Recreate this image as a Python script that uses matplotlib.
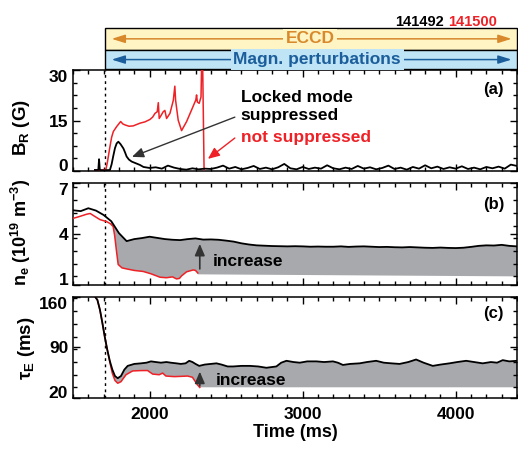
import numpy as np
import matplotlib
matplotlib.use('Agg')
import matplotlib.pyplot as plt
from matplotlib.patches import Rectangle
from matplotlib.ticker import MultipleLocator
from matplotlib.transforms import blended_transform_factory

plt.rcParams['font.family'] = ['Liberation Sans', 'DejaVu Sans']
plt.rcParams['font.weight'] = 'bold'
plt.rcParams['axes.labelweight'] = 'bold'
plt.rcParams['mathtext.fontset'] = 'custom'
plt.rcParams['mathtext.rm'] = 'Liberation Sans:bold'
plt.rcParams['mathtext.it'] = 'Liberation Sans:bold'
plt.rcParams['mathtext.bf'] = 'Liberation Sans:bold'
plt.rcParams['mathtext.default'] = 'rm'

RED = '#ee2126'
FILL = '#a7a9ac'

# --- (a) B_R, shot 141492 (black) ---
t_br_k_early = [1643, 1665, 1670, 1675, 1700, 1741, 1752, 1763, 1774, 1785,
                1796, 1810, 1829, 1840, 1850, 1865, 1883, 1910, 1937]
br_k_early = [0.3, 0.3, 3.5, 0.3, 0.2, 0.3, 2.0, 4.5, 6.8, 8.2,
              8.7, 8.0, 6.7, 5.5, 4.3, 3.4, 2.8, 2.3, 1.8]
t_br_k_tail = np.arange(1960, 4401, 40)
br_k_tail = [1.2, 0.9, 1.1, 0.7, 1.6, 1.0, 0.6, 0.4, 0.8, 0.5,
             0.7, 0.6, 1.0, 1.6, 0.7, 1.2, 0.5, 0.9, 1.5, 0.6,
             1.0, 0.5, 1.1, 2.1, 0.8, 0.5, 1.2, 0.6, 1.0, 0.7,
             1.7, 0.8, 0.5, 1.0, 0.6, 1.5, 0.7, 1.1, 0.5, 0.9,
             1.6, 0.6, 1.0, 0.4, 1.2, 0.7, 1.7, 0.8, 1.3, 0.6,
             1.1, 0.7, 1.4, 0.6, 1.0, 0.5, 1.2, 0.8, 1.3, 0.7,
             1.9, 1.5]

# --- (a) B_R, shot 141500 (red) ---
t_br_r = [1643, 1680, 1715, 1724, 1741, 1752, 1763, 1785, 1811, 1825,
          1839, 1866, 1893, 1937, 1970, 2002, 2020, 2035, 2050, 2057,
          2063, 2075, 2089, 2100, 2111, 2133, 2155, 2165, 2170, 2187,
          2209, 2242, 2274, 2302, 2307, 2312, 2324, 2336, 2341, 2346,
          2356]
br_r = [0.3, 0.2, 0.5, 2.5, 7.2, 10.0, 11.7, 13.2, 14.7, 14.0,
        13.7, 13.3, 13.4, 14.2, 14.6, 15.3, 16.0, 17.1, 17.6, 20.3,
        15.6, 16.5, 17.6, 18.0, 15.6, 17.1, 21.0, 25.2, 21.0, 15.1,
        12.0, 14.7, 18.1, 21.1, 22.6, 20.5, 20.1, 22.0, 34.0, 34.0,
        0.4]

# --- (b) density ---
t_ne_k = np.arange(1500, 4401, 50)
ne_k = [5.40, 5.35, 5.52, 5.38, 5.12, 4.75, 4.05, 3.58, 3.70, 3.76,
        3.84, 3.77, 3.70, 3.66, 3.64, 3.70, 3.74, 3.67, 3.68, 3.66,
        3.61, 3.55, 3.45, 3.38, 3.33, 3.31, 3.29, 3.28, 3.27, 3.28,
        3.27, 3.25, 3.26, 3.25, 3.25, 3.27, 3.24, 3.26, 3.27, 3.25,
        3.23, 3.24, 3.22, 3.21, 3.23, 3.21, 3.19, 3.18, 3.20, 3.18,
        3.17, 3.19, 3.24, 3.30, 3.33, 3.32, 3.36, 3.30, 3.27]
t_ne_r = [1500, 1545, 1590, 1612, 1640, 1676, 1720, 1745, 1762, 1772,
          1785, 1795, 1820, 1850, 1900, 1958, 2010, 2068, 2110, 2150,
          2176, 2195, 2209, 2242, 2285, 2300, 2315]
ne_r = [4.92, 5.04, 5.17, 5.21, 5.05, 4.85, 4.73, 4.60, 4.44, 3.90,
        2.90, 2.20, 2.00, 1.94, 1.85, 1.79, 1.65, 1.45, 1.42, 1.47,
        1.35, 1.38, 1.53, 1.77, 1.88, 1.85, 1.70]
t_ne_base = [4400, 2315]
ne_base = [1.50, 1.62]

# --- (c) confinement time ---
t_tau_k = [1600, 1643, 1659, 1676, 1692, 1707, 1724, 1741, 1757, 1774,
           1792, 1813, 1835, 1857, 1900, 1944, 1980, 2009, 2040, 2074,
           2110, 2139, 2175, 2204, 2235, 2259, 2280, 2300, 2324, 2360,
           2400, 2437, 2470, 2510, 2546, 2600, 2655, 2710, 2763, 2828,
           2860, 2894, 2940, 2981, 3030, 3090, 3140, 3198, 3230, 3263,
           3310, 3372, 3420, 3480, 3530, 3580, 3633, 3690, 3741, 3790,
           3850, 3900, 3959, 4010, 4068, 4120, 4176, 4230, 4270, 4307,
           4350, 4400]
tau_k = [177.5, 160.0, 155.6, 141.6, 123.3, 104.9, 86.5, 70.8, 59.4, 50.6,
         47.6, 50.6, 59.4, 64.6, 67.3, 68.1, 69.0, 70.8, 69.9, 69.0,
         69.9, 69.0, 68.1, 67.3, 68.1, 71.6, 69.9, 67.3, 64.6, 66.4,
         67.3, 68.1, 66.4, 63.8, 63.8, 64.6, 64.6, 63.8, 62.0, 63.8,
         69.0, 71.6, 69.9, 69.0, 70.8, 70.8, 69.9, 70.8, 69.0, 65.9,
         67.3, 68.1, 69.9, 71.6, 69.0, 68.1, 67.3, 69.9, 73.4, 69.0,
         64.6, 66.4, 68.1, 69.9, 71.6, 69.9, 68.1, 69.9, 69.0, 72.5,
         70.8, 71.6]
t_tau_r = [1600, 1643, 1659, 1676, 1692, 1707, 1724, 1741, 1757, 1774,
           1792, 1813, 1846, 1889, 1940, 1987, 2020, 2063, 2085, 2107,
           2161, 2210, 2248, 2280, 2313, 2328]
tau_r = [177.5, 160.0, 155.6, 141.6, 123.3, 104.9, 86.5, 69.0, 54.1, 44.5,
         40.7, 42.8, 52.4, 57.6, 58.1, 58.2, 53.3, 52.4, 54.7, 50.6,
         49.8, 50.2, 50.6, 48.9, 38.4, 34.9]
t_tau_base = [4400, 2328]
tau_base = [35.1, 35.1]

t_start = 1710   # ECCD / perturbation start
fill_from = 1741

t_br_k = np.r_[t_br_k_early, t_br_k_tail]
br_k = np.r_[br_k_early, br_k_tail]

fig = plt.figure(figsize=(5.18, 4.5), dpi=100)
ax_a = fig.add_axes([0.141, 0.620, 0.857, 0.2244])
ax_b = fig.add_axes([0.141, 0.367, 0.857, 0.226])
ax_c = fig.add_axes([0.141, 0.115, 0.857, 0.2258])


def gap_fill(ax, tk, yk, tr, yr, tb, yb):
    tk, yk, tr, yr = map(np.asarray, (tk, yk, tr, yr))
    mk = tk >= fill_from
    mr = tr >= fill_from
    xs = np.r_[tk[mk], tb, tr[mr][::-1]]
    ys = np.r_[yk[mk], yb, yr[mr][::-1]]
    ax.fill(xs, ys, color=FILL, lw=0, zorder=1)


arrow_kw = dict(arrowstyle='-|>,head_length=0.7,head_width=0.3',
                shrinkA=0, shrinkB=0, mutation_scale=10)

# (a)
ax_a.plot(t_br_r, br_r, color=RED, lw=1.1, zorder=3)
ax_a.plot(t_br_k, br_k, color='k', lw=1.3, zorder=4)
ax_a.set_ylim(0, 30)
ax_a.set_yticks([0, 15, 30], ['0', '15', '30'])
ax_a.yaxis.set_minor_locator(MultipleLocator(3.75))
ax_a.set_ylabel(r'B$_R$ (G)', fontsize=13.5)
ax_a.yaxis.set_label_coords(-0.092, 0.435)
ax_a.text(2596, 20.6, 'Locked mode', fontsize=12.5, va='baseline')
ax_a.text(2596, 15.1, 'suppressed', fontsize=12.5, va='baseline')
ax_a.text(2596, 8.7, 'not suppressed', fontsize=12.5, va='baseline', color=RED)
ax_a.annotate('', xy=(1885, 4.2), xytext=(2557, 16),
              arrowprops=dict(color='#333333', lw=1, **arrow_kw))
ax_a.annotate('', xy=(2381, 3.6), xytext=(2557, 9.8),
              arrowprops=dict(color=RED, lw=1, **arrow_kw))

# (b)
gap_fill(ax_b, t_ne_k, ne_k, t_ne_r, ne_r, t_ne_base, ne_base)
ax_b.plot(t_ne_r, ne_r, color=RED, lw=1.1, zorder=3)
ax_b.plot(t_ne_k, ne_k, color='k', lw=1.3, zorder=4)
ax_b.set_ylim(1, 7)
ax_b.set_yticks([1, 4, 7], ['1', '4', '7'])
ax_b.yaxis.set_minor_locator(MultipleLocator(0.75))
ax_b.set_ylabel(r'n$_e$ (10$^{19}$ m$^{-3}$)', fontsize=13)
ax_b.yaxis.set_label_coords(-0.09, 0.52)
ax_b.annotate('', xy=(2328, 3.42), xytext=(2328, 1.94),
              arrowprops=dict(color='#333333', lw=1.2, **arrow_kw), zorder=5)
ax_b.text(2415, 2.14, 'increase', fontsize=12.5, va='baseline', zorder=5)

# (c)
gap_fill(ax_c, t_tau_k, tau_k, t_tau_r, tau_r, t_tau_base, tau_base)
ax_c.plot(t_tau_r, tau_r, color=RED, lw=1.1, zorder=3)
ax_c.plot(t_tau_k, tau_k, color='k', lw=1.3, zorder=4)
ax_c.set_ylim(20, 160)
ax_c.set_yticks([20, 90, 160], ['20', '90', '160'])
ax_c.yaxis.set_minor_locator(MultipleLocator(17.5))
ax_c.set_ylabel(r'$\tau_E$ (ms)', fontsize=13.5)
ax_c.yaxis.set_label_coords(-0.081, 0.495)
ax_c.annotate('', xy=(2328, 56.7), xytext=(2328, 37.0),
              arrowprops=dict(color='#333333', lw=1.2, **arrow_kw), zorder=5)
ax_c.text(2433, 38.3, 'increase', fontsize=12.5, va='baseline', zorder=5)
ax_c.set_xlabel('Time (ms)', fontsize=13, labelpad=2)

for ax, lab, ly in ((ax_a, '(a)', 0.81), (ax_b, '(b)', 0.794), (ax_c, '(c)', 0.83)):
    ax.set_xlim(1500, 4400)
    ax.set_xticks([2000, 3000, 4000])
    ax.xaxis.set_minor_locator(MultipleLocator(100))
    ax.axvline(t_start, color='k', lw=1, ls=(0, (2, 2.5)), zorder=2)
    ax.tick_params(which='both', direction='in', top=True, right=True, width=1)
    ax.tick_params(which='major', length=5, labelsize=12.5, pad=3.5)
    ax.tick_params(which='minor', length=3)
    ax.tick_params(axis='x', which='major', pad=6)
    for s in ax.spines.values():
        s.set_linewidth(1.1)
    ax.text(0.971, ly, lab, transform=ax.transAxes, ha='right', va='center',
            fontsize=12)
    if ax is not ax_c:
        ax.tick_params(labelbottom=False)
    labels = ax.get_yticklabels()
    labels[0].set_va('baseline')
    labels[-1].set_va('top')

# top bars: ECCD and magnetic perturbations
trans = blended_transform_factory(ax_a.transData, fig.transFigure)
bars = [('ECCD', 0.8896, 0.9378, '#fff4c4', '#d8892c', 3049),
        ('Magn. perturbations', 0.8456, 0.8896, '#bfe4f6', '#1b5e9b', 3095)]
for name, y0, y1, fc, tc, xc in bars:
    ax_a.add_patch(Rectangle((t_start, y0), 4400 - t_start, y1 - y0, transform=trans,
                             fc=fc, ec='k', lw=1, clip_on=False))
    ym = (y0 + y1) / 2
    ax_a.annotate('', xy=(1752, ym), xytext=(4365, ym), xycoords=trans,
                  textcoords=trans,
                  arrowprops=dict(arrowstyle='<|-|>,head_length=0.8,head_width=0.25',
                                  color=tc, lw=1.1, shrinkA=0, shrinkB=0,
                                  mutation_scale=10))
    ax_a.text(xc, ym, name, transform=trans, ha='center', va='center',
              fontsize=12.5, color=tc,
              bbox=dict(boxstyle='square,pad=0.15', fc=fc, ec='none'))

fig.text(0.762, 0.942, '141492', fontsize=10.5, va='baseline', color='k')
fig.text(0.866, 0.942, '141500', fontsize=10.5, va='baseline', color=RED)

fig.savefig('out.png', dpi=100)
